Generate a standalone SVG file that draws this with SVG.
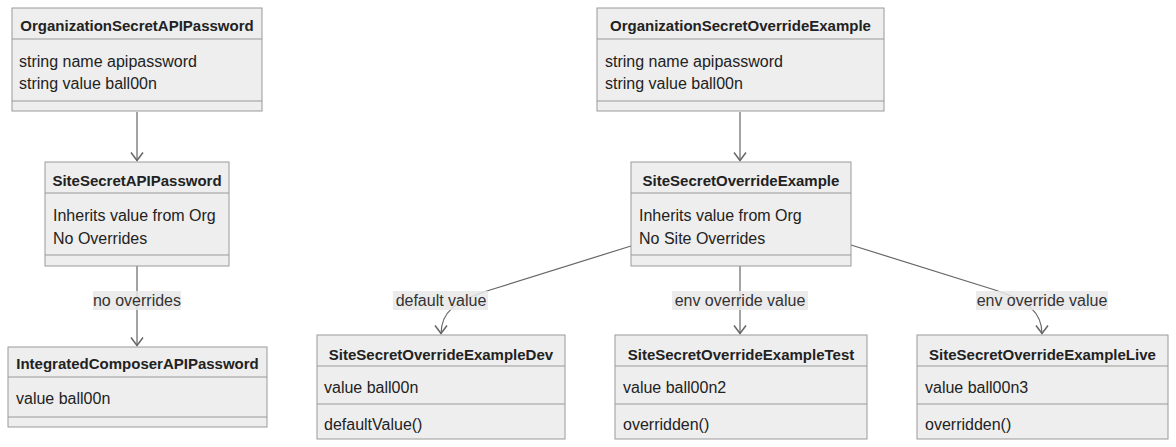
<svg xmlns="http://www.w3.org/2000/svg" width="1176" height="447" viewBox="0 0 1176 447">
<style>
.box{fill:#eeeeee;stroke:#9a9a9a;stroke-width:1}
.div{stroke:#9a9a9a;stroke-width:1}
.t{font-family:"Liberation Sans",Arial,sans-serif;font-size:15px;font-weight:bold;fill:#222;text-anchor:middle}
.m{font-family:"Liberation Sans",Arial,sans-serif;font-size:16px;fill:#222}
.e{fill:none;stroke:#666;stroke-width:1.2}
.lb{fill:#e8e8e8;opacity:0.85}
.lt{font-family:"Liberation Sans",Arial,sans-serif;font-size:16px;fill:#333;text-anchor:middle}
</style>
<defs>
<marker id="arr" markerUnits="userSpaceOnUse" viewBox="0 0 10 14" refX="9.5" refY="7" markerWidth="10" markerHeight="14" orient="auto">
<path d="M1,1 L9,7 L1,13" fill="none" stroke="#666" stroke-width="1.5"/>
</marker>
</defs>
<rect width="1176" height="447" fill="#ffffff"/>
<g id="connectors">
<path class="e" d="M137,112 L137,161" marker-end="url(#arr)"/>
<path class="e" d="M137,266 L137,346" marker-end="url(#arr)"/>
<path class="e" d="M740,112 L740,161" marker-end="url(#arr)"/>
<path class="e" d="M631,246 L490,290 C455,301 441,312 441,334" marker-end="url(#arr)"/>
<path class="e" d="M740,266 L740,334" marker-end="url(#arr)"/>
<path class="e" d="M851,245 L995,290 C1028,301 1042,312 1042,334" marker-end="url(#arr)"/>
<rect class="lb" x="93" y="291" width="88" height="19"/>
<text class="lt" x="137" y="305.5">no overrides</text>
<rect class="lb" x="393" y="291" width="95" height="19"/>
<text class="lt" x="441" y="305.5">default value</text>
<rect class="lb" x="672" y="291" width="136" height="19"/>
<text class="lt" x="740" y="305.5">env override value</text>
<rect class="lb" x="976" y="291" width="132" height="19"/>
<text class="lt" x="1042" y="305.5">env override value</text>
</g>
<g id="OrganizationSecretAPIPassword">
<rect class="box" x="12" y="8" width="250" height="103"/>
<line class="div" x1="12" y1="39" x2="262" y2="39"/>
<line class="div" x1="12" y1="101" x2="262" y2="101"/>
<text class="t" x="137" y="30.5">OrganizationSecretAPIPassword</text>
<text class="m" x="19" y="66.5">string name apipassword</text>
<text class="m" x="19" y="88.5">string value ball00n</text>
</g>
<g id="SiteSecretAPIPassword">
<rect class="box" x="45" y="162" width="184" height="104"/>
<line class="div" x1="45" y1="193" x2="229" y2="193"/>
<line class="div" x1="45" y1="255" x2="229" y2="255"/>
<text class="t" x="137" y="185.5">SiteSecretAPIPassword</text>
<text class="m" x="53" y="220.5">Inherits value from Org</text>
<text class="m" x="53" y="243.5">No Overrides</text>
</g>
<g id="IntegratedComposerAPIPassword">
<rect class="box" x="8" y="347" width="259" height="80"/>
<line class="div" x1="8" y1="377" x2="267" y2="377"/>
<line class="div" x1="8" y1="417" x2="267" y2="417"/>
<text class="t" x="137.5" y="368.5">IntegratedComposerAPIPassword</text>
<text class="m" x="16" y="403.5">value ball00n</text>
</g>
<g id="OrganizationSecretOverrideExample">
<rect class="box" x="597" y="8" width="287" height="103"/>
<line class="div" x1="597" y1="39" x2="884" y2="39"/>
<line class="div" x1="597" y1="101" x2="884" y2="101"/>
<text class="t" x="740.5" y="30.5">OrganizationSecretOverrideExample</text>
<text class="m" x="605" y="66.5">string name apipassword</text>
<text class="m" x="605" y="88.5">string value ball00n</text>
</g>
<g id="SiteSecretOverrideExample">
<rect class="box" x="631" y="162" width="220" height="104"/>
<line class="div" x1="631" y1="193" x2="851" y2="193"/>
<line class="div" x1="631" y1="255" x2="851" y2="255"/>
<text class="t" x="741" y="185.5">SiteSecretOverrideExample</text>
<text class="m" x="639" y="220.5">Inherits value from Org</text>
<text class="m" x="639" y="243.5">No Site Overrides</text>
</g>
<g id="SiteSecretOverrideExampleDev">
<rect class="box" x="317" y="335" width="248" height="104"/>
<line class="div" x1="317" y1="366" x2="565" y2="366"/>
<line class="div" x1="317" y1="404" x2="565" y2="404"/>
<text class="t" x="441" y="359.5">SiteSecretOverrideExampleDev</text>
<text class="m" x="324" y="392.5">value ball00n</text>
<text class="m" x="324" y="429.5">defaultValue()</text>
</g>
<g id="SiteSecretOverrideExampleTest">
<rect class="box" x="615" y="335" width="252" height="104"/>
<line class="div" x1="615" y1="366" x2="867" y2="366"/>
<line class="div" x1="615" y1="404" x2="867" y2="404"/>
<text class="t" x="741" y="359.5">SiteSecretOverrideExampleTest</text>
<text class="m" x="623" y="392.5">value ball00n2</text>
<text class="m" x="623" y="429.5">overridden()</text>
</g>
<g id="SiteSecretOverrideExampleLive">
<rect class="box" x="917" y="335" width="251" height="104"/>
<line class="div" x1="917" y1="366" x2="1168" y2="366"/>
<line class="div" x1="917" y1="404" x2="1168" y2="404"/>
<text class="t" x="1042.5" y="359.5">SiteSecretOverrideExampleLive</text>
<text class="m" x="925" y="392.5">value ball00n3</text>
<text class="m" x="925" y="429.5">overridden()</text>
</g>
</svg>
